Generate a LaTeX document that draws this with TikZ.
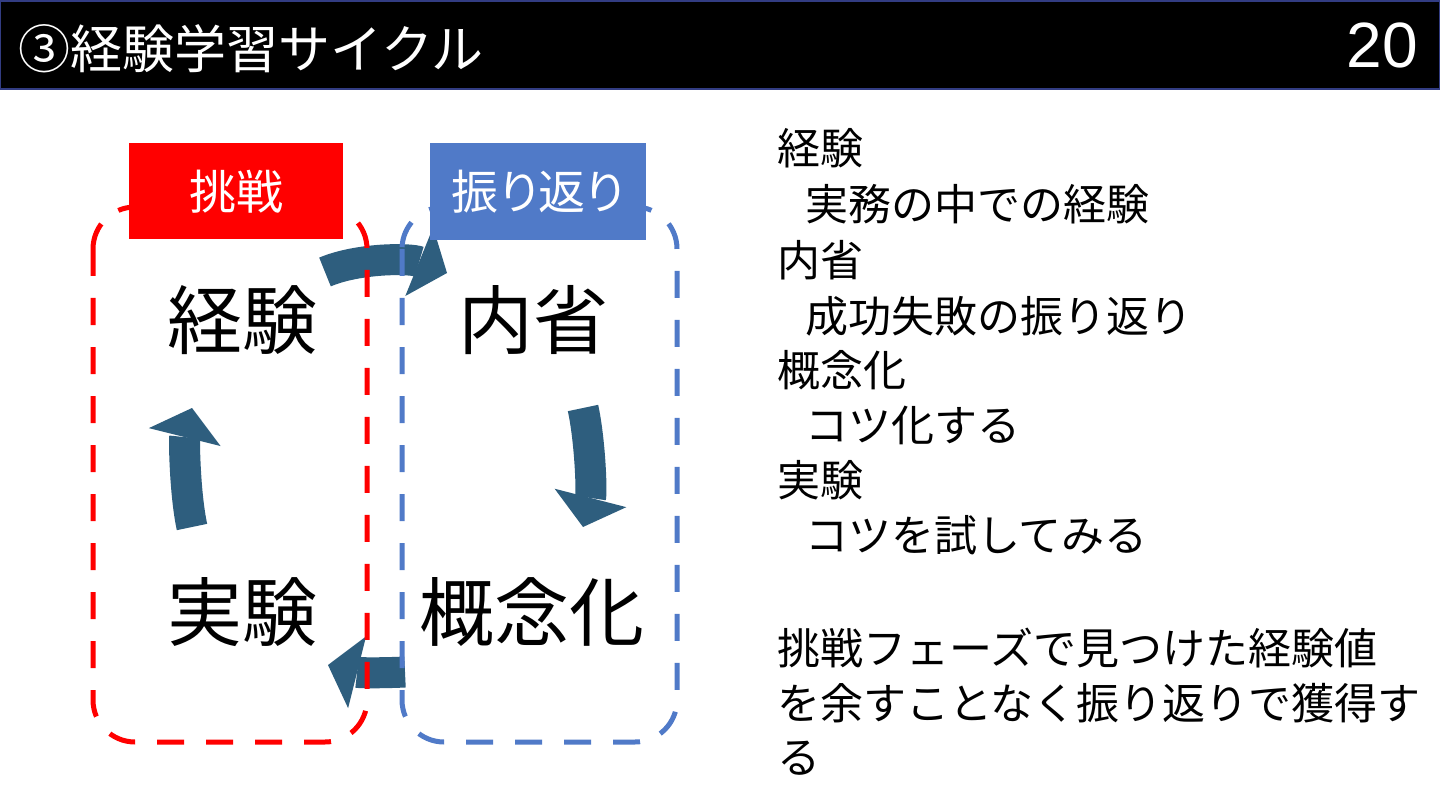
\documentclass[tikz,border=0pt]{standalone}
\usepackage{fontspec}
\setmainfont{Noto Sans CJK JP}
\newfontfamily\latinfont{Liberation Sans}
\usetikzlibrary{arrows.meta}
\definecolor{hdrborder}{RGB}{50,60,130}
\definecolor{redc}{RGB}{255,0,0}
\definecolor{bluec}{RGB}{80,122,200}
\definecolor{arrowc}{RGB}{46,94,126}
\begin{document}
\begin{tikzpicture}[x=1pt,y=-1pt,
  dashbox/.style={line width=5pt, dash pattern=on 27pt off 22pt, rounded corners=42pt},
  tag/.style={minimum width=214pt, minimum height=96pt, inner sep=0pt, text=white, font=\fontsize{47pt}{50pt}\selectfont\addfontfeatures{RawFeature=+palt}},
  stage/.style={inner sep=0pt, font=\fontsize{75pt}{80pt}\selectfont},
  note/.style={anchor=west, inner sep=0pt, font=\fontsize{43pt}{48pt}\selectfont},
  cyc/.style={draw=arrowc, line width=31pt, -{Triangle[width=74pt,length=30pt,line width=0pt]}},
  hdr/.style={text=white, inner sep=0pt}
]
\useasboundingbox (0,0) rectangle (1440,810);
\fill[white] (0,0) rectangle (1440,810);
% header
\draw[fill=black, draw=hdrborder, line width=2pt] (0,1) rectangle (1440,89);
\node[hdr, anchor=west, font=\fontsize{52pt}{56pt}\selectfont] (title) at (18,49) {③経験学習サイクル};
\node[hdr, font=\latinfont\fontsize{64pt}{70pt}\selectfont] (page) at (1382,45) {20};

% stage labels
\node[stage] (keiken) at (242,320) {経験};
\node[stage] (naisei) at (533,320) {内省};
\node[stage] (jikken) at (242,612) {実験};
\node[stage] (gainen) at (532,612) {概念化};

% cycle arrows
\coordinate (a1s) at (325,272);
\coordinate (a1e) at (447,273);
\coordinate (a2s) at (583,408);
\coordinate (a2e) at (583,527);
\coordinate (a3s) at (405,672);
\coordinate (a3e) at (328,665);
\coordinate (a4s) at (192,527);
\coordinate (a4e) at (192,408);
\draw[cyc] (a1s) .. controls (358,258) and (410,258) .. (a1e);
\draw[cyc] (a2s) .. controls (590,440) and (592,492) .. (a2e);
\draw[cyc] (a3s) .. controls (385,673) and (360,673) .. (a3e);
\draw[cyc] (a4s) .. controls (185,495) and (184,440) .. (a4e);

% dashed phase boxes
\draw[dashbox, redc] (93,207) rectangle (367,742);
\draw[dashbox, bluec] (402,207) rectangle (677,742);

% phase tags
\node[tag, fill=redc] (chosen) at (236,191.5) {挑戦};
\node[tag, fill=bluec, minimum width=216pt, minimum height=97pt] (furikaeri) at (538,191.5) {振り返り};

% notes
\node[note] (n1) at (777,148) {経験};
\node[note] (n2) at (805,204) {実務の中での経験};
\node[note] (n3) at (777,260) {内省};
\node[note] (n4) at (805,316) {成功失敗の振り返り};
\node[note] (n5) at (777,370) {概念化};
\node[note] (n6) at (805,425) {コツ化する};
\node[note] (n7) at (777,480) {実験};
\node[note] (n8) at (805,535) {コツを試してみる};
\node[note] (n9) at (777,648) {挑戦フェーズで見つけた経験値};
\node[note] (n10) at (777,703) {を余すことなく振り返りで獲得す};
\node[note] (n11) at (777,758) {る};
\end{tikzpicture}
\end{document}
